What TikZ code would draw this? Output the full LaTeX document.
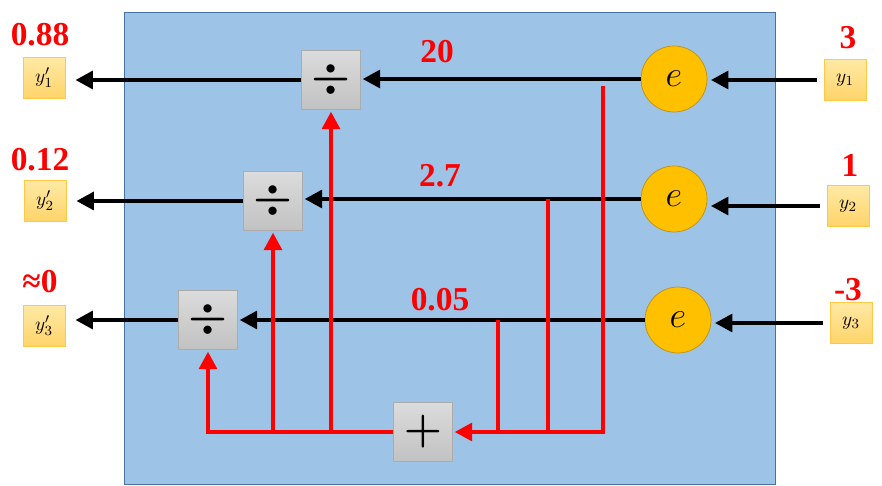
\documentclass[tikz,border=0pt]{standalone}
\usepackage{fontspec}
\setmainfont{Liberation Serif}
\usepackage{amsmath}
\usetikzlibrary{arrows.meta}

\definecolor{panelblue}{RGB}{157,195,230}
\definecolor{paneledge}{RGB}{70,114,160}
\definecolor{expgold}{RGB}{255,192,0}
\definecolor{expedge}{RGB}{190,145,20}
\definecolor{valred}{RGB}{255,0,0}
\definecolor{varlight}{RGB}{255,233,165}
\definecolor{vardark}{RGB}{255,212,105}
\definecolor{varedge}{RGB}{255,200,70}

\begin{document}
\begin{tikzpicture}[x=0.02cm,y=-0.02cm,
    >={Triangle[length=10pt,width=10pt]},
    expnode/.style={circle,draw=expedge,fill=expgold,minimum size=1.32cm,inner sep=0pt,font=\fontsize{21}{23}\selectfont},
    opbox/.style={draw=gray!65,top color=gray!28,bottom color=gray!48,minimum size=1.18cm,inner sep=0pt,font=\fontsize{24}{26}\selectfont},
    varbox/.style={draw=varedge,top color=varlight,bottom color=vardark,minimum width=0.84cm,minimum height=0.82cm,inner sep=0pt,font=\fontsize{11}{13}\selectfont},
    val/.style={text=valred,font=\fontsize{19}{21}\selectfont\bfseries},
    blk/.style={line width=2.8pt},
    redline/.style={line width=2.6pt,valred}]
    \useasboundingbox (0,0) rectangle (882,486);
    % panel
    \draw[paneledge,fill=panelblue] (124,12) rectangle (775,484);
    % inputs
    \node[varbox] (y1) at (845,80) {$y_1$};
    \node[varbox] (y2) at (848,206) {$y_2$};
    \node[varbox] (y3) at (851,323) {$y_3$};
    \node[val] (in1) at (848,38) {3};
    \node[val] (in2) at (850,165) {1};
    \node[val] (in3) at (848,290) {-3};
    % exponentials
    \node[expnode] (e1) at (674,79) {$e$};
    \node[expnode] (e2) at (674,199) {$e$};
    \node[expnode] (e3) at (678,320) {$e$};
    % dividers and sum
    \node[opbox] (d1) at (331,80) {$\boldsymbol{\div}$};
    \node[opbox] (d2) at (273,201) {$\boldsymbol{\div}$};
    \node[opbox] (d3) at (208,320) {$\boldsymbol{\div}$};
    \node[opbox] (pl) at (423,432) {$\boldsymbol{+}$};
    % outputs
    \node[varbox] (o1) at (44,78) {$y'_1$};
    \node[varbox] (o2) at (45,201) {$y'_2$};
    \node[varbox] (o3) at (44,326) {$y'_3$};
    \node[val] (out1) at (40,35) {0.88};
    \node[val] (out2) at (40,160) {0.12};
    \node[val] (out3) at (40,282) {≈0};
    % exp values
    \node[val] (x1) at (437,52) {20};
    \node[val] (x2) at (440,176) {2.7};
    \node[val] (x3) at (440,300) {0.05};
    % black flow
    \draw[blk,->,shorten <=4pt,shorten >=2pt] (y1.west) -- (y1.west -| e1.east);
    \draw[blk,->,shorten <=4pt,shorten >=2pt] (y2.west) -- (y2.west -| e2.east);
    \draw[blk,->,shorten <=4pt,shorten >=2pt] (y3.west) -- (y3.west -| e3.east);
    \draw[blk,->,shorten >=1pt] (e1.west) -- (e1.west -| d1.east);
    \draw[blk,->,shorten >=1pt] (e2.west) -- (e2.west -| d2.east);
    \draw[blk,->,shorten >=1pt] (e3.west) -- (e3.west -| d3.east);
    \draw[blk,->,shorten >=0.2cm] (d1.west) -- (d1.west -| o1.east);
    \draw[blk,->,shorten >=0.2cm] (d2.west) -- (d2.west -| o2.east);
    \draw[blk,->,shorten >=0.2cm] (d3.west) -- (d3.west -| o3.east);
    % red sum
    \coordinate (t1) at (603,86);
    \coordinate (t2) at (548,199);
    \coordinate (t3) at (498,320);
    \coordinate (b1) at (603,432);
    \draw[redline,->,shorten >=1pt] (t1) -- (b1) -- (pl.east);
    \draw[redline] (t2) -- (t2 |- b1);
    \draw[redline] (t3) -- (t3 |- b1);
    \draw[redline,->,shorten >=1pt] (pl.west) -- (pl.west -| d3.south) -- (d3.south);
    \draw[redline,->,shorten >=1pt] (pl.west -| d2.south) -- (d2.south);
    \draw[redline,->,shorten >=1pt] (pl.west -| d1.south) -- (d1.south);
\end{tikzpicture}
\end{document}
